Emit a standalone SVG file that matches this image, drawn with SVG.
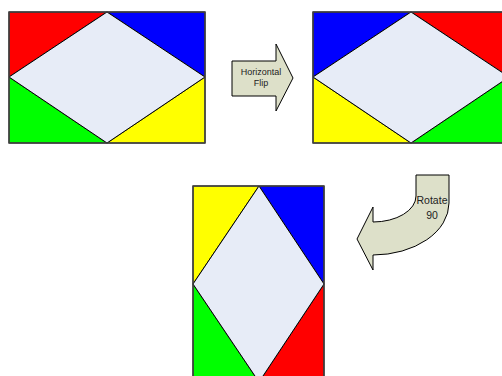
<svg xmlns="http://www.w3.org/2000/svg" width="502" height="376" viewBox="0 0 502 376">
<style>
.frame{fill:none;stroke:#404040;stroke-width:1.5}
.tri{stroke:#202020;stroke-width:1}
.dia{fill:#e7ecf7;stroke:#000;stroke-width:1}
.arrow{fill:#dde0c9;stroke:#000;stroke-width:1}
.lbl{font-family:"Liberation Sans",Arial,sans-serif;fill:#222;text-anchor:middle}
</style>
<rect width="502" height="376" fill="#fff"/>
<g id="original">
<polygon points="9,12 107,12 9,77" fill="#ff0000" class="tri"/>
<polygon points="107,12 205,12 205,77" fill="#0000ff" class="tri"/>
<polygon points="9,77 9,143 107,143" fill="#00ff00" class="tri"/>
<polygon points="205,77 205,143 107,143" fill="#ffff00" class="tri"/>
<polygon points="107,12 205,77 107,143 9,77" class="dia"/>
<rect x="9" y="12" width="196" height="131" class="frame"/>
</g>
<g id="flipped">
<polygon points="313,12 411,12 313,77" fill="#0000ff" class="tri"/>
<polygon points="411,12 509,12 509,77" fill="#ff0000" class="tri"/>
<polygon points="313,77 313,143 411,143" fill="#ffff00" class="tri"/>
<polygon points="509,77 509,143 411,143" fill="#00ff00" class="tri"/>
<polygon points="411,12 509,77 411,143 313,77" class="dia"/>
<rect x="313" y="12" width="196" height="131" class="frame"/>
</g>
<g id="rotated">
<polygon points="193,186 259,186 193,284" fill="#ffff00" class="tri"/>
<polygon points="259,186 324,186 324,284" fill="#0000ff" class="tri"/>
<polygon points="193,284 193,382 259,382" fill="#00ff00" class="tri"/>
<polygon points="324,284 324,382 259,382" fill="#ff0000" class="tri"/>
<polygon points="259,186 324,284 259,382 193,284" class="dia"/>
<rect x="193" y="186" width="131" height="196" class="frame"/>
</g>
<g id="connectors">
<g id="flip-arrow">
<polygon points="232,61 276,61 276,44 293,78 276,111 276,96 232,96" class="arrow"/>
<text x="261" y="75" font-size="9" class="lbl">Horizontal</text>
<text x="261" y="86" font-size="9" class="lbl">Flip</text>
</g>
<g id="rotate-arrow">
<path d="M416,175 L449,175 L449,203 A76,52 0 0 1 373,255 L373,270 L357,239 L373,207 L373,222 A43,26 0 0 0 416,196 Z" class="arrow"/>
<text x="432" y="204" font-size="10.5" class="lbl">Rotate</text>
<text x="432" y="219" font-size="10.5" class="lbl">90</text>
</g>
</g>
</svg>
